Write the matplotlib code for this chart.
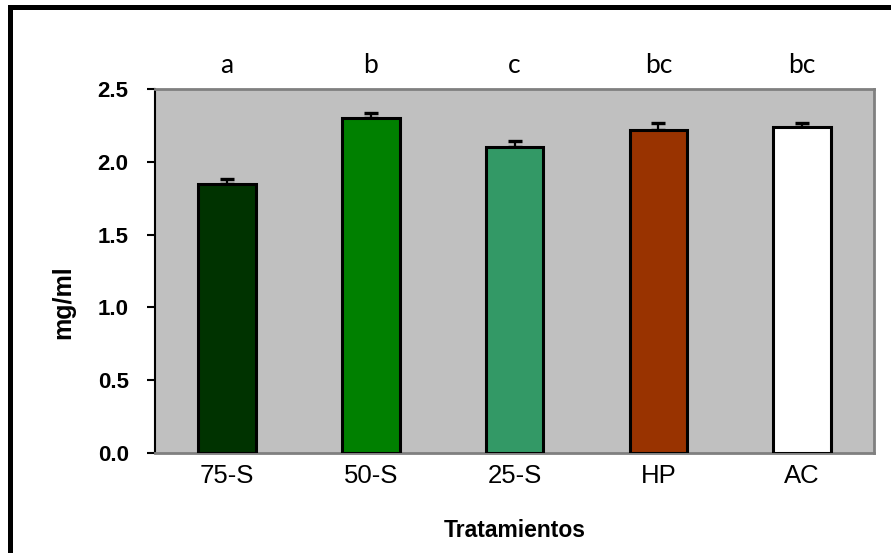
import matplotlib.pyplot as plt
from matplotlib.patches import Rectangle

plt.rcParams["font.family"] = ["Liberation Sans", "DejaVu Sans"]

categories = ["75-S", "50-S", "25-S", "HP", "AC"]
means = [1.85, 2.30, 2.10, 2.22, 2.24]
errors = [0.035, 0.035, 0.04, 0.045, 0.03]
letters = ["a", "b", "c", "bc", "bc"]
bar_colors = ["#003300", "#008000", "#339966", "#993300", "#ffffff"]
yticks = [0.0, 0.5, 1.0, 1.5, 2.0, 2.5]


def main():
    fig = plt.figure(figsize=(8.91, 5.53), dpi=100)
    ax = fig.add_axes([0.174, 0.181, 0.807, 0.658])

    # frame around the whole figure (runs off the right and bottom edges)
    fig.patches.append(Rectangle((0.0112, -0.2), 1.2, 1.187, transform=fig.transFigure,
                                 fill=False, edgecolor="black", linewidth=3.6, zorder=0))

    x = list(range(len(categories)))
    ax.set_facecolor("#c0c0c0")
    ax.errorbar(x, means, yerr=[[0] * len(errors), errors], fmt="none",
                ecolor="black", elinewidth=1.6, capsize=5, capthick=2.4, zorder=2)
    ax.bar(x, means, width=0.4, color=bar_colors, edgecolor="black",
           linewidth=2.2, zorder=3)

    for xi, lab in zip(x, letters):
        ax.text(xi, 2.66, lab, ha="center", va="center", fontsize=19,
                family=["Lato", "DejaVu Sans"], clip_on=False)

    ax.set_xlim(-0.5, len(categories) - 0.5)
    ax.set_ylim(0, 2.5)
    ax.set_yticks(yticks)
    ax.set_yticklabels(["%.1f" % v for v in yticks], fontsize=16, fontweight="bold")
    ax.set_xticks(x)
    ax.set_xticklabels(categories, fontsize=18.5)
    ax.tick_params(axis="x", length=0, pad=8)
    ax.tick_params(axis="y", length=6, width=1.5, pad=13, direction="out")

    for side in ["top", "right", "bottom"]:
        ax.spines[side].set_color("#808080")
        ax.spines[side].set_linewidth(2)
    ax.spines["left"].set_color("black")
    ax.spines["left"].set_linewidth(1.5)

    ax.set_ylabel("mg/ml", fontsize=18, fontweight="bold")
    ax.yaxis.set_label_coords(-0.111, 0.415)
    ax.set_xlabel("Tratamientos", fontsize=16.5, fontweight="bold", labelpad=22)

    plt.savefig("out.png", dpi=100)


if __name__ == "__main__":
    main()
